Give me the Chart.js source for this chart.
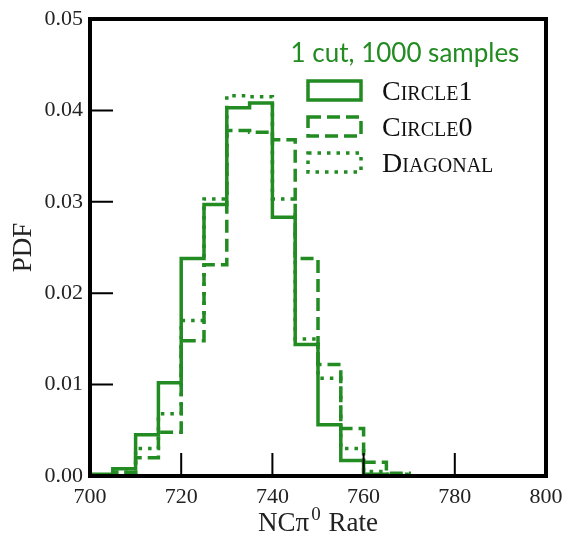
<!DOCTYPE html>
<html>
<head>
<meta charset="utf-8">
<script src="https://cdn.jsdelivr.net/npm/chart.js@4"></script>
<style>
  html, body { margin: 0; padding: 0; background: #fff; }
  canvas { display: block; }
</style>
</head>
<body>
<canvas id="myChart" width="564" height="538"></canvas>
<script>
// bin edges of the histograms (width 5)
const binEdges = [700, 705, 710, 715, 720, 725, 730, 735, 740, 745, 750, 755, 760, 765, 770]

// PDF per bin
const circle1 = [0.0002, 0.0008, 0.0045, 0.0102, 0.0238, 0.0297, 0.0403, 0.0408, 0.0283, 0.0144, 0.0056, 0.0017, 0.0002, 0]
const circle0 = [0, 0.0004, 0.0020, 0.0048, 0.0148, 0.0231, 0.0378, 0.0376, 0.0368, 0.0238, 0.0122, 0.0052, 0.0015, 0.0003]
const diagonal = [0, 0.0004, 0.0030, 0.0068, 0.0170, 0.0303, 0.0416, 0.0415, 0.0303, 0.0150, 0.0107, 0.0030, 0.0005, 0.0002]

const seriesNames = ['Circle1', 'Circle0', 'Diagonal']
const legendTitle = '1 cut, 1000 samples'

const xTicks = [700, 720, 740, 760, 780, 800]
const yTicks = [0, 0.01, 0.02, 0.03, 0.04, 0.05]

const green = '#228b22'
const serif = "'Liberation Serif', serif"

// turn bin values into a step outline that starts and ends on zero
function stepPoints(values) {
    const pts = [{ x: binEdges[0], y: 0 }]
    values.forEach((v, i) => pts.push({ x: binEdges[i], y: v }))
    pts.push({ x: binEdges[binEdges.length - 1], y: 0 })
    return pts
}

function histDataset(label, values, dash) {
    return {
        label: label,
        data: stepPoints(values),
        stepped: 'before',
        borderColor: green,
        borderWidth: 3.5,
        borderDash: dash,
        pointRadius: 0,
        fill: false
    }
}

// black frame, inward ticks on bottom and left, and the x title (NCπ with superscript 0)
const framePlugin = {
    id: 'frame',
    afterDraw(chart) {
        const { ctx, chartArea: a, scales: { x, y } } = chart
        ctx.save()
        ctx.strokeStyle = '#000'
        ctx.lineWidth = 2
        ctx.beginPath()
        for (let t of x.ticks) {
            const px = x.getPixelForValue(t.value)
            if (px <= a.left + 1 || px >= a.right - 1) continue
            ctx.moveTo(px, a.bottom)
            ctx.lineTo(px, a.bottom - 23)
        }
        for (let t of y.ticks) {
            const py = y.getPixelForValue(t.value)
            if (py <= a.top + 1 || py >= a.bottom - 1) continue
            ctx.moveTo(a.left, py)
            ctx.lineTo(a.left + 23, py)
        }
        ctx.stroke()
        ctx.lineWidth = 4
        ctx.strokeRect(a.left, a.top, a.right - a.left, a.bottom - a.top)

        // x axis title
        const big = '27px ' + serif
        const small = '19px ' + serif
        const parts = [['NCπ', big, 0], ['0', small, -11], [' Rate', big, 0]]
        let total = 0
        for (let p of parts) { ctx.font = p[1]; total += ctx.measureText(p[0]).width + (p[0] === '0' ? 3 : 0) }
        let cx = (a.left + a.right) / 2 - total / 2
        const base = 531
        ctx.fillStyle = '#222'
        ctx.textAlign = 'left'
        ctx.textBaseline = 'alphabetic'
        for (let p of parts) {
            ctx.font = p[1]
            if (p[0] === '0') cx += 2
            ctx.fillText(p[0], cx, base + p[2])
            cx += ctx.measureText(p[0]).width + (p[0] === '0' ? 1 : 0)
        }
        ctx.restore()
    }
}

// legend inside the top right corner, small caps labels
const legendPlugin = {
    id: 'insideLegend',
    afterDraw(chart) {
        const { ctx, chartArea: a } = chart
        ctx.save()
        ctx.fillStyle = green
        ctx.font = "26px Lato"
        ctx.textAlign = 'center'
        ctx.textBaseline = 'alphabetic'
        ctx.fillText(legendTitle, a.right - 141, 62)

        chart.data.datasets.forEach((ds, i) => {
            const rowY = 90 + i * 36
            ctx.strokeStyle = ds.borderColor
            ctx.lineWidth = 3.5
            ctx.setLineDash(ds.borderDash || [])
            ctx.strokeRect(a.right - 238, rowY - 9, 53, 19)
            ctx.setLineDash([])
            ctx.fillStyle = '#111'
            ctx.font = "small-caps 28px " + serif
            ctx.fontVariantCaps = 'small-caps'
            ctx.textAlign = 'left'
            ctx.fillText(ds.label, a.right - 164, rowY + 10)
        })
        ctx.restore()
    }
}

const ctx = document.getElementById('myChart').getContext('2d')
const myChart = new Chart(ctx, {
    type: 'line',
    data: {
        datasets: [
            histDataset(seriesNames[0], circle1, []),
            histDataset(seriesNames[1], circle0, [13, 6]),
            histDataset(seriesNames[2], diagonal, [3.5, 6])
        ]
    },
    options: {
        responsive: false,
        animation: false,
        devicePixelRatio: 1,
        layout: { padding: { left: 0, right: 18, top: 19, bottom: 0 } },
        plugins: {
            legend: { display: false },
            tooltip: { enabled: false }
        },
        scales: {
            x: {
                type: 'linear',
                min: 700,
                max: 800,
                afterBuildTicks: (scale) => { scale.ticks = xTicks.map(v => ({ value: v })) },
                afterFit: (scale) => {
                    scale.height = 62
                    scale.paddingLeft = 0
                    scale.paddingRight = 0
                },
                grid: { display: false, drawTicks: false, tickLength: 0 },
                border: { display: false },
                ticks: {
                    color: '#222',
                    font: { family: serif, size: 22 },
                    padding: 8,
                    maxRotation: 0
                }
            },
            y: {
                min: 0,
                max: 0.05,
                afterBuildTicks: (scale) => { scale.ticks = yTicks.map(v => ({ value: v })) },
                afterFit: (scale) => {
                    scale.width = 90
                    scale.paddingTop = 0
                    scale.paddingBottom = 0
                },
                grid: { display: false, drawTicks: false, tickLength: 0 },
                border: { display: false },
                ticks: {
                    color: '#222',
                    font: { family: serif, size: 22 },
                    padding: 7,
                    callback: (v) => v.toFixed(2)
                },
                title: {
                    display: true,
                    text: 'PDF',
                    color: '#222',
                    font: { family: serif, size: 27 },
                    padding: { top: 8, bottom: 0 }
                }
            }
        }
    },
    plugins: [framePlugin, legendPlugin]
})
</script>
</body>
</html>
